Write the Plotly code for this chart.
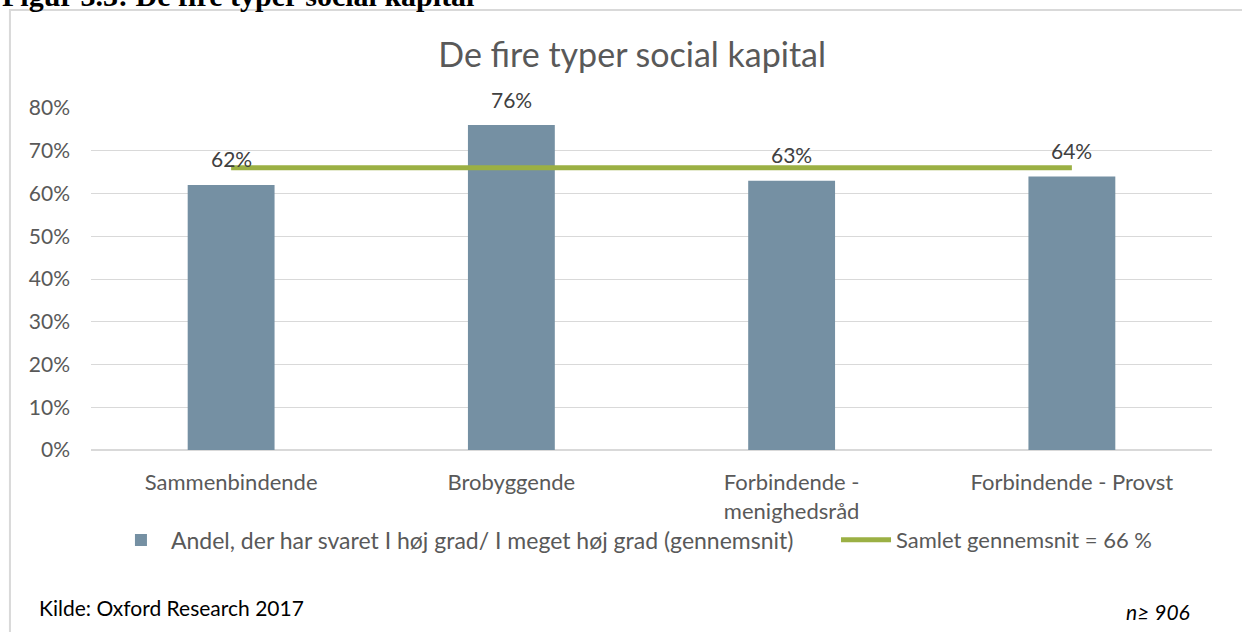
import plotly.graph_objects as go

categories = ["Sammenbindende", "Brobyggende", "Forbindende - menighedsråd", "Forbindende - Provst"]
tick_labels = ["Sammenbindende", "Brobyggende", "Forbindende -<br>menighedsråd", "Forbindende - Provst"]
bar_values = [0.62, 0.76, 0.63, 0.64]
avg_values = [0.66, 0.66, 0.66, 0.66]
bar_name = "Andel, der har svaret I høj grad/ I meget høj grad (gennemsnit)"
line_name = "Samlet gennemsnit = 66 %"

FONT = "Lato, 'Open Sans', sans-serif"
GREY = "#595959"

fig = go.Figure()
fig.add_trace(go.Bar(
    x=categories, y=bar_values, name=bar_name,
    marker=dict(color="#7590A3", line=dict(width=0)),
    width=0.31, legend="legend",
))
fig.add_trace(go.Scatter(
    x=categories, y=avg_values, name=line_name, mode="lines",
    line=dict(color="#9BB044", width=5), legend="legend2",
))

for c, v in zip(categories, bar_values):
    fig.add_annotation(x=c, y=v, text=f"{round(v * 100)}%", showarrow=False,
                       yshift=26, font=dict(family=FONT, size=21, color="#404040"))

fig.update_xaxes(tickvals=categories, ticktext=tick_labels, showgrid=False,
                 showline=False, ticks="", ticklabelstandoff=17,
                 tickfont=dict(family=FONT, size=22, color=GREY))
fig.update_yaxes(range=[0, 0.8], dtick=0.1, tickformat=".0%", showgrid=True,
                 gridcolor="#d9d9d9", gridwidth=1, zeroline=True, zerolinecolor="#d9d9d9",
                 ticks="", ticklabelstandoff=20, tickfont=dict(family=FONT, size=21, color=GREY))

# outer chart border
fig.add_shape(type="rect", xref="paper", yref="paper", x0=-0.0723, x1=1.06, y0=-0.6, y1=1.2866,
              line=dict(color="#d9d9d9", width=2), fillcolor="rgba(0,0,0,0)", layer="below")

fig.add_annotation(xref="paper", yref="paper", x=-0.0812, y=1.329, xanchor="left", yanchor="middle",
                   text="<b>Figur 3.3: De fire typer social kapital</b>", showarrow=False,
                   font=dict(family="Liberation Serif, serif", size=30, color="black"))
fig.add_annotation(xref="paper", yref="paper", x=-0.0482, y=-0.46, xanchor="left", yanchor="middle",
                   text="Kilde: Oxford Research 2017", showarrow=False,
                   font=dict(family=FONT, size=21, color="black"))
fig.add_annotation(xref="paper", yref="paper", x=0.9822, y=-0.472, xanchor="right", yanchor="middle",
                   text="<i>n≥ 906</i>", showarrow=False,
                   font=dict(family=FONT, size=21, color="black"))

fig.update_layout(
    width=1242, height=632,
    margin=dict(l=91, r=30, t=108, b=182),
    paper_bgcolor="white", plot_bgcolor="white",
    title=dict(text="De fire typer social kapital", x=0.509, xanchor="center", y=0.913, yanchor="middle",
               font=dict(family=FONT, size=34, color=GREY)),
    showlegend=True,
    legend=dict(orientation="h", x=0.0178, xanchor="left", y=-0.263, yanchor="middle",
                font=dict(family=FONT, size=23, color=GREY), bgcolor="rgba(0,0,0,0)",
                itemwidth=50),
    legend2=dict(orientation="h", x=0.6646, xanchor="left", y=-0.263, yanchor="middle",
                 font=dict(family=FONT, size=22, color=GREY), bgcolor="rgba(0,0,0,0)",
                 itemwidth=50),
)

fig.write_html("out.html", config={"displayModeBar": False},
               post_script="document.body.style.margin='0';")
